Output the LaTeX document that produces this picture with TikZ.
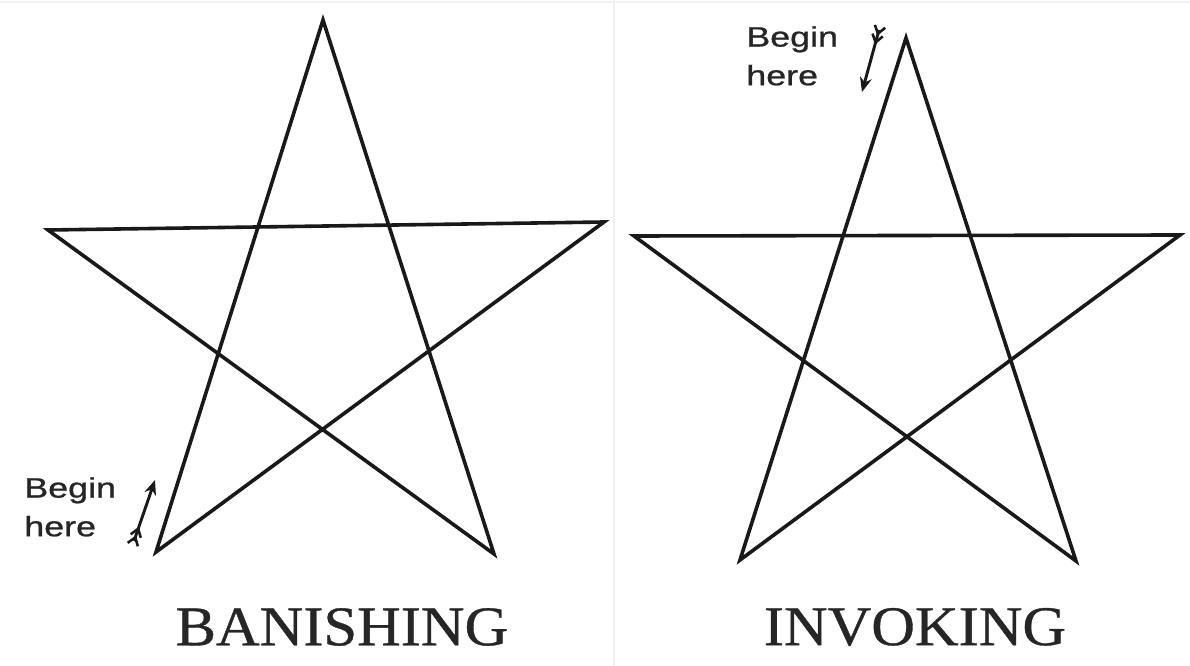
\documentclass[tikz,border=0pt]{standalone}
\usepackage{fontspec}
\setmainfont{Liberation Serif}[FakeBold=0.6]
\setsansfont{Liberation Sans}[FakeBold=0.8]
\usetikzlibrary{calc,arrows.meta}
\tikzset{
  starline/.style={line width=2.7pt, line join=miter, line cap=round, black!90},
  title/.style={font=\fontsize{42}{42}\selectfont\rmfamily, text=black!85, xscale=1.08, inner sep=0pt},
  hint/.style={font=\fontsize{21}{29}\selectfont\sffamily, text=black!85, align=left, xscale=1.28, inner sep=0pt, anchor=north west},
  shaft/.style={line width=2.2pt, black!90, -{Stealth[length=11pt,width=9pt]}},
  fletch/.style={line width=1.9pt, black!90},
  faint/.style={line width=1pt, black!6}
}
\begin{document}
\begin{tikzpicture}[x=0.75pt,y=-0.75pt]
\useasboundingbox (0,0) rectangle (1190,666);
\fill[white] (0,0) rectangle (1190,666);
\draw[faint] (614,0) -- (614,666);
\draw[faint] (0,2) -- (1190,2);
% left star
\coordinate (LT) at (323,20);
\coordinate (LL) at (48,230);
\coordinate (LR) at (604,222);
\coordinate (LBL) at (156,552);
\coordinate (LBR) at (494,554);
\draw[starline] (LBL) -- (LT) -- (LBR) -- (LL) -- (LR) -- cycle;
% right star
\coordinate (RT) at (906,38);
\coordinate (RL) at (634,236);
\coordinate (RR) at (1180,235);
\coordinate (RBL) at (740,560);
\coordinate (RBR) at (1076,561);
\draw[starline] (RBL) -- (RT) -- (RBR) -- (RL) -- (RR) -- cycle;
% titles
\node[title] (ban) at (342,627) {BANISHING};
\node[title] (inv) at (915,627) {INVOKING};
% begin here texts
\node[hint] (bl) at (24,477) {Begin\\here};
\node[hint] (br) at (746,26) {Begin\\here};
% left arrow
\coordinate (LAt) at (134,541);
\coordinate (LAh) at (155,480);
\draw[shaft] (LAt) -- (LAh);
\foreach \f in {0.06,0.2}{
  \coordinate (p) at ($(LAt)!\f!(LAh)$);
  \draw[fletch] ($(p)!7pt!145:(LAh)$) -- (p) -- ($(p)!7pt!-145:(LAh)$);
}
% right arrow
\coordinate (RAt) at (879,30);
\coordinate (RAh) at (862,92);
\draw[shaft] (RAt) -- (RAh);
\foreach \f in {0.06,0.2}{
  \coordinate (q) at ($(RAt)!\f!(RAh)$);
  \draw[fletch] ($(q)!7pt!145:(RAh)$) -- (q) -- ($(q)!7pt!-145:(RAh)$);
}
\end{tikzpicture}
\end{document}
